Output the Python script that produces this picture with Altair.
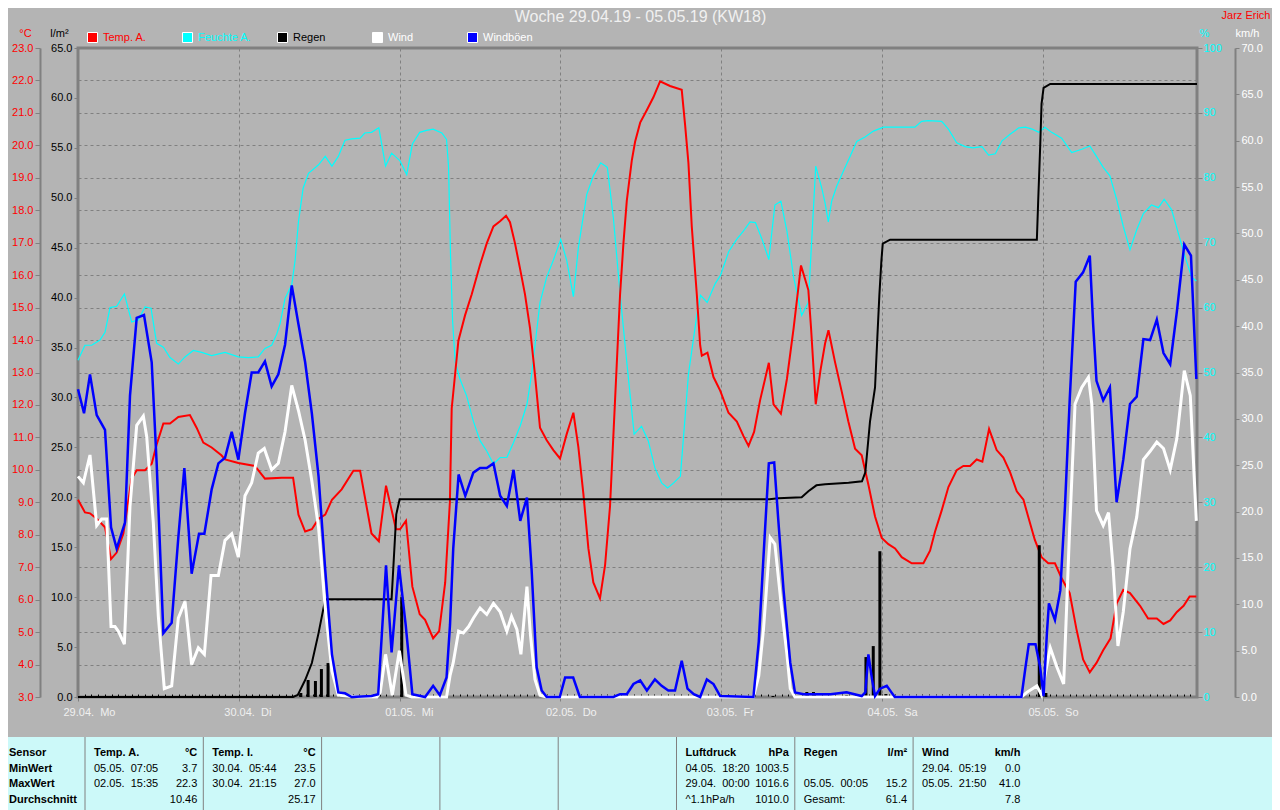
import altair as alt
import pandas as pd

FONT = "Liberation Sans"
BG = "#b4b4b4"
FRAME = "#808080"
TABLE_BG = "#ccf9f9"
RED, CYAN, BLACK, WHITE, BLUE = "#ff0000", "#00ffff", "#000000", "#ffffff", "#0000ff"

title_text = "Woche 29.04.19 - 05.05.19 (KW18)"
author_text = "Jarz Erich"
day_labels = ["29.04.\u00a0 Mo", "30.04.\u00a0 Di", "01.05.\u00a0 Mi", "02.05.\u00a0 Do",
              "03.05.\u00a0 Fr", "04.05.\u00a0 Sa", "05.05.\u00a0 So"]

# ---------------- series (time in hours since 29.04. 00:00) ----------------
temp_t = [0, 1.04, 1.79, 2.79, 4.03, 4.93, 5.77, 6.77, 8.01, 8.76, 10.0, 11.0, 11.74, 12.74, 13.73,
          14.97, 16.7, 17.7, 18.7, 19.95, 21.4, 21.94, 23.93, 26.4, 27.9, 30.4, 32.1, 32.9, 33.9,
          34.9, 35.9, 36.9, 37.9, 39.35, 41.1, 42.1, 43.8, 44.9, 45.97, 47.46, 48.06, 48.95, 49.9,
          51.0, 51.8, 53.0, 53.9, 54.8, 55.5, 55.77, 56.27, 56.77, 57.76, 58.76, 60.0, 61.0, 62.0,
          62.98, 63.88, 64.47, 65.22, 65.97, 66.71, 67.46, 68.2, 68.95, 69.95, 70.94, 71.94, 72.93,
          73.93, 74.67, 75.42, 76.17, 76.91, 77.9, 78.66, 79.4, 80.15, 80.9, 81.4, 81.9, 82.64,
          83.14, 83.9, 84.9, 85.87, 86.87, 88.36, 90.1, 90.6, 91.1, 91.6, 92.35, 92.85, 93.1,
          93.94, 94.84, 95.84, 97.08, 98.33, 99.32, 100.07, 100.9, 101.8, 103.1, 103.8, 104.9,
          105.8, 106.8, 107.9, 109.0, 109.4, 110.1, 110.8, 111.5, 112.0, 112.98, 113.98, 114.97,
          115.97, 116.96, 117.96, 118.95, 119.95, 120.94, 121.94, 122.93, 124.43, 126.17, 127.16,
          127.91, 128.9, 129.9, 131.14, 132.13, 133.13, 134.12, 134.97, 135.97, 137.1, 138.1,
          139.1, 140.1, 141.1, 141.8, 142.8, 143.8, 144.8, 145.8, 146.8, 148.0, 149.0, 150.0,
          151.0, 152.0, 153.0, 154.1, 155.0, 156.0, 157.0, 158.5, 159.7, 161.0, 162.0, 163.0,
          164.0, 165.0, 165.9, 166.9]
temp_v = [9.08, 8.69, 8.66, 8.49, 8.23, 7.25, 7.45, 8.04, 9.73, 9.99, 9.99, 10.19, 10.78, 11.43, 11.43,
          11.63, 11.69, 11.30, 10.84, 10.69, 10.45, 10.32, 10.21, 10.12, 9.73, 9.76, 9.76, 8.62, 8.10,
          8.17, 8.49, 8.62, 9.08, 9.40, 9.97, 9.97, 8.04, 7.80, 9.51, 8.17, 8.17, 8.43, 6.40,
          5.55, 5.38, 4.81, 5.03, 6.53, 9.0, 11.89, 12.93, 13.98, 14.76, 15.41, 16.32, 16.98, 17.50,
          17.66, 17.83, 17.63, 16.98, 16.20, 15.41, 14.37, 12.93, 11.30, 10.91, 10.61, 10.35, 11.10,
          11.76, 10.71, 9.27, 7.58, 6.53, 6.04, 7.06, 8.88, 12.15, 15.41, 16.98, 18.29, 19.52,
          20.11, 20.70, 21.09, 21.48, 21.97, 21.83, 21.71, 20.64, 19.46, 17.50, 15.41, 13.84, 13.52,
          13.61, 12.86, 12.44, 11.76, 11.49, 11.04, 10.74, 11.17, 12.15, 13.30, 12.02, 11.73,
          12.80, 14.37, 16.30, 15.54, 14.37, 12.02, 13.06, 13.9, 14.30, 13.32, 12.41, 11.49,
          10.65, 10.45, 9.54, 8.56, 7.90, 7.71, 7.58, 7.31, 7.12, 7.12, 7.51,
          8.10, 8.75, 9.47, 9.99, 10.12, 10.12, 10.32, 10.25, 11.26, 10.61, 10.38,
          9.93, 9.34, 9.08, 8.56, 7.84, 7.31, 7.12, 7.12, 6.66, 6.20, 5.10, 4.16,
          3.76, 4.05, 4.44, 4.81, 5.88, 6.30, 6.20, 5.81, 5.42, 5.42, 5.25, 5.36,
          5.62, 5.81, 6.10, 6.10]

hum_t = [0, 1.04, 2.04, 3.28, 4.03, 4.78, 5.77, 6.92, 8.01, 9.0, 10.0, 10.9, 11.74, 12.74, 13.73,
         14.97, 15.97, 17.2, 18.46, 19.95, 21.94, 23.93, 25.4, 26.9, 27.9, 28.9, 29.65, 30.15,
         30.9, 31.9, 32.4, 32.9, 33.6, 34.4, 35.9, 36.9, 37.9, 38.85, 39.85, 40.85, 42.1, 42.8,
         43.8, 44.9, 45.9, 46.8, 48.06, 49.06, 49.9, 51.0, 52.0, 53.0, 54.3, 55.0, 55.3, 55.6,
         55.9, 56.3, 57.0, 58.0, 59.0, 60.0, 61.0, 62.0, 63.0, 64.0, 65.0, 66.0, 67.0, 67.7,
         68.2, 68.95, 69.95, 70.94, 72.04, 72.93, 73.93, 74.67, 75.92, 76.91, 78.0, 79.0, 79.9,
         80.9, 81.9, 83.0, 84.1, 85.1, 86.1, 87.1, 88.0, 88.9, 89.9, 90.3, 91.1, 92.35, 92.9,
         93.9, 95.1, 95.9, 97.1, 98.3, 99.3, 100.3, 101.1, 102.1, 103.1, 104.0, 104.9, 105.8,
         106.8, 108.0, 109.0, 110.1, 111.0, 111.5, 111.98, 112.48, 113.23, 114.22, 115.22,
         116.22, 117.46, 118.71, 120.2, 124.9, 125.9, 126.9, 128.9, 129.9, 131.14, 132.4, 133.6,
         134.9, 135.9, 136.9, 137.9, 139.1, 140.4, 141.4, 142.4, 143.4, 144.3, 145.3, 146.8,
         148.3, 149.8, 151.0, 152.0, 153.0, 154.0, 155.0, 156.0, 157.0, 158.0, 159.0, 160.2,
         161.25, 162.1, 163.2, 164.2, 165.2, 166.2, 166.9]
hum_v = [51.9, 54.2, 54.2, 55.0, 56.2, 60.0, 60.2, 62.1, 57.8, 58.1, 60.1, 59.9, 54.5, 53.9, 52.3,
         51.3, 52.4, 53.4, 53.1, 52.6, 53.1, 52.4, 52.3, 52.4, 53.7, 54.2, 55.9, 57.5,
         61.4, 63.5, 67.3, 73.2, 78.4, 80.7, 82.0, 83.3, 81.8, 83.3, 85.8, 86.0, 86.1, 86.9,
         87.0, 87.7, 81.8, 83.8, 82.6, 80.5, 85.2, 87.0, 87.3, 87.5, 86.9, 85.9, 81.7, 68.0,
         58.0, 51.6, 49.0, 46.4, 42.5, 39.5, 37.9, 35.9, 36.9, 36.9, 39.2, 41.8, 45.1, 49.7,
         54.2, 60.8, 64.7, 67.3, 70.5, 67.3, 61.7, 69.2, 77.4, 80.3, 82.3, 81.6, 73.8,
         62.1, 51.6, 40.5, 41.7, 39.5, 35.3, 33.0, 32.2, 33.0, 34.0, 39.2, 49.7, 58.8, 61.9,
         60.8, 63.7, 65.0, 68.6, 70.5, 71.8, 73.2, 73.1, 70.5, 67.4, 75.8, 76.4, 71.8,
         64.7, 58.8, 60.8, 81.8, 78.4, 76.1, 73.2, 76.4, 78.7, 81.0, 83.3,
         85.6, 86.3, 87.2, 87.8, 87.8, 88.7, 88.8, 88.7, 87.5, 85.4, 84.8, 84.6,
         84.8, 83.5, 83.7, 85.7, 86.7, 87.7, 87.8, 87.5, 87.0, 87.8, 87.0, 86.1,
         83.9, 84.4, 84.9, 83.3, 81.6, 80.3, 76.7, 72.5, 68.9, 72.0, 74.5, 75.8,
         75.4, 76.7, 75.1, 71.5, 67.9, 64.7, 64.1]

wind_t = [0, 0.8, 1.79, 2.79, 3.53, 4.28, 4.93, 5.52, 6.02, 6.92, 7.76, 8.76, 9.75, 10.25, 11.24,
          11.99, 12.88, 13.98, 14.97, 15.97, 16.96, 17.96, 18.86, 19.85, 20.95, 21.94, 22.94,
          23.93, 24.92, 25.92, 26.9, 27.8, 28.9, 29.9, 30.9, 31.9, 32.9, 33.9, 34.9, 35.9, 36.9,
          37.9, 38.85, 41.8, 44.6, 45.1, 45.9, 46.9, 47.96, 48.95, 49.8, 55.0, 55.52, 56.0, 56.8,
          57.5, 58.3, 59.0, 60.0, 61.0, 62.0, 63.0, 64.0, 64.7, 65.5, 66.1, 67.0, 67.5, 68.2,
          68.95, 69.95, 100.8, 101.6, 102.3, 103.3, 104.0, 105.0, 105.8, 106.3, 107.0, 140.8,
          141.6, 143.1, 143.8, 144.3, 145.1, 146.1, 147.1, 148.0, 148.8, 149.8, 150.8, 151.3,
          152.0, 153.0, 153.8, 154.5, 155.2, 156.0, 157.0, 158.0, 159.0, 160.0, 161.0, 162.0,
          163.0, 164.0, 165.1, 166.0, 166.9]
wind_v = [23.8, 23.1, 26.1, 18.5, 19.2, 19.2, 7.6, 7.6, 7.1, 5.7, 20.6, 29.3, 30.3, 28.1, 18.8,
          8.7, 0.9, 1.2, 8.5, 10.3, 3.5, 5.3, 4.6, 13.1, 13.1, 16.9, 17.6,
          15.1, 21.7, 23.1, 26.3, 26.8, 24.5, 25.2, 28.6, 33.6, 30.9, 27.7, 23.3, 18.3, 9.6,
          2.8, 0.2, 0, 0, 0.5, 4.6, 0.2, 5.0, 0.2, 0, 0, 2.3, 3.7, 7.1,
          6.9, 7.6, 8.5, 9.6, 8.9, 10.1, 9.2, 7.1, 8.7, 7.3, 4.6, 11.9, 6.9, 1.9,
          0.2, 0, 0, 2.3, 7.3, 17.2, 16.5, 9.6, 4.6, 0.9, 0, 0,
          0.5, 1.2, 0.2, 2.3, 5.3, 3.2, 1.4, 18.3, 31.6, 33.4, 34.5, 31.6,
          20.1, 18.5, 19.9, 13.7, 5.5, 9.2, 16.0, 19.4, 25.6, 26.5, 27.5, 26.8,
          24.5, 27.9, 35.2, 32.5, 19.0]

gust_t = [0, 0.9, 1.79, 2.79, 4.03, 4.93, 5.77, 7.01, 7.76, 8.76, 9.85, 11.0, 11.74, 12.74, 13.98,
          14.97, 15.87, 16.96, 18.06, 18.86, 19.95, 20.95, 21.94, 22.94, 23.93, 24.92, 25.92,
          26.9, 27.9, 28.9, 29.9, 30.9, 31.9, 32.9, 33.9, 34.9, 35.9, 36.9, 37.9, 38.85, 39.85,
          40.85, 43.8, 44.8, 45.97, 46.8, 47.9, 48.9, 49.9, 51.8, 53.0, 54.0, 55.0, 55.52, 56.0,
          56.8, 57.8, 59.0, 60.0, 61.0, 62.0, 63.0, 64.0, 65.0, 66.0, 67.0, 67.7, 68.45, 69.2,
          69.95, 71.9, 72.7, 73.9, 74.9, 79.9, 80.9, 81.9, 82.9, 83.9, 84.9, 86.1, 87.1, 88.1,
          89.1, 90.1, 90.96, 91.9, 92.85, 93.85, 94.84, 95.84, 100.8, 101.6, 102.3, 103.1,
          103.9, 104.5, 105.3, 106.3, 107.0, 108.3, 112.3, 114.7, 116.96, 117.5, 117.96, 118.5,
          118.95, 119.7, 120.7, 121.4, 121.9, 140.8, 141.4, 141.9, 142.9, 143.6, 144.1, 144.6,
          144.9, 145.8, 146.6, 147.3, 148.0, 148.9, 150.0, 151.0, 151.5, 152.0, 153.0, 154.0,
          155.0, 156.0, 157.0, 158.0, 159.0, 160.0, 161.0, 162.0, 163.0, 164.0, 165.1, 166.1,
          166.9]
gust_v = [33.2, 30.6, 34.8, 30.4, 28.8, 18.3, 16.0, 18.8, 32.5, 40.9, 41.2, 36.1, 25.2, 6.9, 8.0,
          17.2, 24.7, 13.3, 17.6, 17.6, 22.4, 25.2, 25.8, 28.6, 25.6, 30.6, 35.0,
          35.0, 36.2, 33.5, 34.8, 38.0, 44.4, 40.2, 36.1, 30.6, 23.8, 13.7, 4.6, 0.5, 0.4,
          0, 0.1, 0.3, 14.2, 4.8, 14.2, 7.8, 0.3, 0, 1.2, 0.2, 2.1, 7.8, 16.0,
          24.0, 21.7, 24.2, 24.7, 24.7, 25.2, 21.7, 20.6, 24.5, 19.0, 21.5, 13.7, 3.2, 0.7,
          0, 0, 2.1, 2.1, 0, 0, 0.3, 0.3, 1.4, 1.8, 0.7, 1.9, 1.2, 0.7,
          0.7, 3.9, 0.9, 0.3, 0, 1.9, 1.4, 0.1, 0, 6.0, 15.1, 25.2,
          25.3, 19.2, 11.5, 3.7, 0.5, 0.3, 0.3, 0.5, 0.1, 0.5, 4.6, 1.9,
          0.1, 0.9, 1.2, 0.5, 0, 0, 3.2, 5.7, 5.7, 3.2, 0.1, 6.9,
          10.1, 8.3, 11.5, 20.6, 32.0, 44.8, 45.8, 47.6, 40.2, 34.1, 32.0, 33.4,
          21.0, 25.6, 31.6, 32.4, 38.6, 38.5, 40.7, 37.1, 35.9, 41.6, 48.8, 47.6,
          34.3]

rain_cum_t = [0, 32.1, 32.8, 33.9, 34.9, 35.9, 36.9, 46.8, 47.5, 48.0, 103.2, 104.5, 108.0, 109.0,
              110.2, 111.5, 115.0, 117.0, 117.5, 118.2, 118.95, 119.3, 119.6, 119.9, 120.1, 121.2,
              143.1, 143.3, 143.6, 143.8, 144.1, 145.1, 167]
rain_cum_v = [0, 0, 0.2, 1.7, 3.4, 6.4, 9.8, 9.8, 18.3, 19.8, 19.8, 19.9, 20.0, 20.6,
              21.2, 21.3, 21.45, 21.6, 22.5, 27.6, 31.0, 36.1, 40.3, 43.7, 45.4, 45.8,
              45.8, 49.7, 55.2, 59.4, 61.0, 61.4, 61.4]

rain_bar_t = [32.8, 33.9, 35.0, 35.9, 36.9, 48.0, 103.9, 109.0, 110.0, 115.0, 117.0, 117.9, 119.0,
              120.0, 120.9, 144.0, 145.0]
rain_bar_v = [0.4, 1.7, 1.6, 2.8, 3.4, 10.0, 0.1, 0.5, 0.5, 0.2, 0.2, 4.0, 5.1,
              14.6, 0.3, 15.2, 0.4]

legend_names = ["Temp. A.", "Feuchte A.", "Regen", "Wind", "Windb\u00f6en"]
legend_fill = [RED, CYAN, BLACK, WHITE, BLUE]
legend_text = [RED, CYAN, BLACK, WHITE, WHITE]

# ---------------- table ----------------
row_labels = ["Sensor", "MinWert", "MaxWert", "Durchschnitt"]
sensor_names = ["Temp. A.", "Temp. I.", "", "", "", "Luftdruck", "Regen", "Wind"]
sensor_units = ["\u00b0C", "\u00b0C", "", "", "", "hPa", "l/m\u00b2", "km/h"]
min_when = ["05.05.\u00a0 07:05", "30.04.\u00a0 05:44", "", "", "", "04.05.\u00a0 18:20", "", "29.04.\u00a0 05:19"]
min_vals = ["3.7", "23.5", "", "", "", "1003.5", "", "0.0"]
max_when = ["02.05.\u00a0 15:35", "30.04.\u00a0 21:15", "", "", "", "29.04.\u00a0 00:00", "05.05.\u00a0 00:05", "05.05.\u00a0 21:50"]
max_vals = ["22.3", "27.0", "", "", "", "1016.6", "15.2", "41.0"]
avg_notes = ["", "", "", "", "", "^1.1hPa/h", "Gesamt:", ""]
avg_vals = ["10.46", "25.17", "", "", "", "1010.0", "61.4", "7.8"]

# ---------------- layout constants (pixels) ----------------
PLOT_W, PLOT_H = 1119, 649
PAD_L, PAD_T, PAD_R, PAD_B = 70, 40, 75, 113
X_MAX = 167
TAB_TOP, TAB_BOT = PLOT_H + 40, PLOT_H + PAD_B          # table band below the plot
TAB_PITCH, TAB_EDGE1 = 118.3, 7.0                         # column pitch, first column edge (plot-relative)
ROW_PITCH, ROW0 = 15.67, 16.0


def frame(t, v, name=""):
    return pd.DataFrame({"t": t, "v": v, "s": name})


label_arr = "[" + ",".join("'%s'" % s for s in day_labels) + "]"
main_x_axis = alt.Axis(values=[24 * i for i in range(len(day_labels))],
                       labelExpr=label_arr + "[round(datum.value/24)]",
                       grid=True, gridDash=[3, 3], gridColor=FRAME, gridOpacity=1, gridWidth=1,
                       domain=False, ticks=True, tickColor=FRAME, tickSize=4, tickWidth=1,
                       labelColor="#f0f0f0", labelFontSize=11, labelFont=FONT, labelAlign="left",
                       labelOffset=-15, labelPadding=5, labelFlush=False, labelOverlap=False,
                       title=None)
hour_x_axis = alt.Axis(values=list(range(1, X_MAX)), orient="bottom", offset=-3, grid=False,
                       labels=False, domain=False, ticks=True, tickColor=BLACK, tickSize=2,
                       tickWidth=1, title=None)


def xenc(axis=None):
    return alt.X("t:Q", scale=alt.Scale(domain=[0, X_MAX], nice=False, zero=False), axis=axis)


def ysc(lo, hi):
    return alt.Scale(domain=[lo, hi], nice=False, zero=False)


def yaxis(orient, offset, values, fmt, color, title, tx, ty=-10, tick=4, pad=2, domain=True):
    return alt.Axis(orient=orient, offset=offset, values=values, format=fmt, grid=False,
                    labelColor=color, labelFontSize=11, labelFont=FONT, labelPadding=pad,
                    labelFlush=False, tickColor=FRAME, tickSize=tick, tickWidth=1,
                    domain=domain, domainColor=FRAME, domainWidth=2,
                    title=title, titleX=tx, titleY=ty, titleAngle=0, titleAlign="center",
                    titleBaseline="bottom", titleColor=color, titleFontSize=11,
                    titleFontWeight="normal", titleFont=FONT)


# ---------------- table layers ----------------
k_lo = 1 + (-PAD_L - TAB_EDGE1) / TAB_PITCH
k_hi = 1 + (PLOT_W + PAD_R - TAB_EDGE1) / TAB_PITCH
r_lo = -ROW0 / ROW_PITCH
r_hi = (TAB_BOT - TAB_TOP - ROW0) / ROW_PITCH

tx_scale = alt.Scale(domain=[k_lo, k_hi], range=[-PAD_L, PLOT_W + PAD_R], nice=False, zero=False)
ty_scale = alt.Scale(domain=[r_lo, r_hi], range=[TAB_TOP, TAB_BOT], nice=False, zero=False)

cells = []
for r, lab in enumerate(row_labels):
    cells.append(dict(k=k_lo, r=r, txt=lab, side="L", bold=True))
cols = [sensor_names, min_when, max_when, avg_notes]
vals = [sensor_units, min_vals, max_vals, avg_vals]
for i in range(len(sensor_names)):
    for r in range(4):
        cells.append(dict(k=i + 1, r=r, txt=cols[r][i], side="L", bold=(r == 0)))
        cells.append(dict(k=i + 2, r=r, txt=vals[r][i], side="R", bold=(r == 0)))
cells = pd.DataFrame([c for c in cells if c["txt"]])
cells.loc[(cells.side == "L") & (cells.k >= 1), "k"] += 8 / TAB_PITCH
# the last (wind) column ends its numbers a little further in
cells.loc[(cells.side == "R") & (cells.k == len(sensor_names) + 1), "k"] -= 5 / TAB_PITCH

tab_bg = alt.Chart(pd.DataFrame({"k0": [k_lo], "k1": [k_hi], "r0": [r_lo], "r1": [r_hi]})).mark_rect(
    color=TABLE_BG).encode(
    x=alt.X("k0:Q", scale=tx_scale, axis=None), x2="k1:Q",
    y=alt.Y("r0:Q", scale=ty_scale, axis=None), y2="r1:Q")

sep_df = pd.DataFrame({"k": list(range(1, len(sensor_names) + 1))})
sep_df["r0"], sep_df["r1"] = r_lo, r_hi
tab_sep = alt.Chart(sep_df).mark_rule(color=FRAME, strokeWidth=1).encode(
    x=alt.X("k:Q", scale=tx_scale, axis=None),
    y=alt.Y("r0:Q", scale=ty_scale, axis=None), y2="r1:Q")


def text_layer(side, bold):
    sub = cells[(cells.side == side) & (cells.bold == bold)]
    return alt.Chart(sub).mark_text(
        align="left" if side == "L" else "right", baseline="middle",
        dx=(1 if side == "L" else -6), fontSize=11, font=FONT,
        fontWeight="bold" if bold else "normal", color=BLACK).encode(
        x=alt.X("k:Q", scale=tx_scale, axis=None),
        y=alt.Y("r:Q", scale=ty_scale, axis=None), text="txt:N")


# ---------------- chart layers ----------------
grid_layer = alt.Chart(frame(temp_t, temp_v)).mark_line(strokeOpacity=0).encode(
    x=xenc(main_x_axis),
    y=alt.Y("v:Q", scale=ysc(3, 23),
            axis=alt.Axis(orient="left", values=list(range(3, 24)), grid=True, gridDash=[3, 3],
                          gridColor=FRAME, gridOpacity=1, gridWidth=1, labels=False, ticks=False,
                          domain=False, title=title_text, titleX=562, titleY=-32, titleAngle=0,
                          titleAlign="center", titleBaseline="middle", titleColor="#f0f0f0",
                          titleFontSize=16, titleFontWeight="normal", titleFont=FONT)))

hum_layer = alt.Chart(frame(hum_t, hum_v)).mark_line(color=CYAN, strokeWidth=1.2).encode(
    x=xenc(),
    y=alt.Y("v:Q", scale=ysc(0, 100),
            axis=yaxis("right", 0, list(range(0, 101, 10)), "d", CYAN, "%", 7, tick=5, pad=1,
                       domain=False)))

temp_layer = alt.Chart(frame(temp_t, temp_v)).mark_line(color=RED, strokeWidth=2).encode(
    x=xenc(),
    y=alt.Y("v:Q", scale=ysc(3, 23),
            axis=yaxis("left", 38, list(range(3, 24)), ".1f", RED, "\u00b0C", -15, tick=5, pad=2)))

bar_layer = alt.Chart(frame(rain_bar_t, rain_bar_v)).mark_bar(color=BLACK, width=3).encode(
    x=xenc(), y=alt.Y("v:Q", scale=ysc(0, 65), axis=None))

rain_layer = alt.Chart(frame(rain_cum_t, rain_cum_v)).mark_line(color=BLACK, strokeWidth=2).encode(
    x=xenc(hour_x_axis),
    y=alt.Y("v:Q", scale=ysc(0, 65),
            axis=yaxis("left", 0, list(range(0, 66, 5)), ".1f", BLACK, "l/m\u00b2", -19,
                       tick=4, pad=2, domain=False)))

wind_layer = alt.Chart(frame(wind_t, wind_v)).mark_line(color=WHITE, strokeWidth=3).encode(
    x=xenc(),
    y=alt.Y("v:Q", scale=ysc(0, 70),
            axis=yaxis("right", 38, list(range(0, 71, 5)), ".1f", WHITE, "km/h", 12, tick=4, pad=2)))

gust_layer = alt.Chart(frame(gust_t, gust_v)).mark_line(color=BLUE, strokeWidth=2.5).encode(
    x=xenc(),
    y=alt.Y("v:Q", scale=ysc(0, 70),
            axis=alt.Axis(orient="right", offset=38, labels=False, ticks=False, domain=False,
                          grid=False, title=author_text, titleX=35, titleY=-33, titleAngle=0,
                          titleAlign="right", titleBaseline="middle", titleColor=RED,
                          titleFontSize=11, titleFontWeight="normal", titleFont=FONT)))

legend_layers = []
for i, (name, fc, tc) in enumerate(zip(legend_names, legend_fill, legend_text)):
    legend_layers.append(
        alt.Chart(frame([0], [0], name)).mark_square(opacity=0, size=1).encode(
            x=xenc(),
            y=alt.Y("v:Q", scale=ysc(0, 1), axis=None),
            fill=alt.Fill("s:N", scale=alt.Scale(domain=[name], range=[fc]),
                          legend=alt.Legend(orient="none", legendX=9 + 95 * i, legendY=-16,
                                            title=None, symbolType="square", symbolSize=100,
                                            symbolStrokeColor=WHITE, symbolStrokeWidth=1,
                                            symbolOpacity=1, labelColor=tc, labelFontSize=11,
                                            labelFont=FONT, labelOffset=5, padding=0))))

chart = alt.layer(
    tab_bg, tab_sep, text_layer("L", True), text_layer("L", False), text_layer("R", True),
    text_layer("R", False),
    grid_layer, hum_layer, temp_layer, bar_layer, rain_layer, wind_layer, gust_layer,
    *legend_layers
).resolve_scale(x="independent", y="independent", fill="independent").properties(
    width=PLOT_W, height=PLOT_H,
    padding={"left": PAD_L, "top": PAD_T, "right": PAD_R, "bottom": PAD_B},
    autosize=alt.AutoSizeParams(type="none"),
    background=BG
).configure_view(stroke=FRAME, strokeWidth=3).configure_axis(
    labelFont=FONT, titleFont=FONT).configure_legend(labelFont=FONT).configure_text(font=FONT)

chart.save("out.html", embed_options={"renderer": "svg", "actions": False})
